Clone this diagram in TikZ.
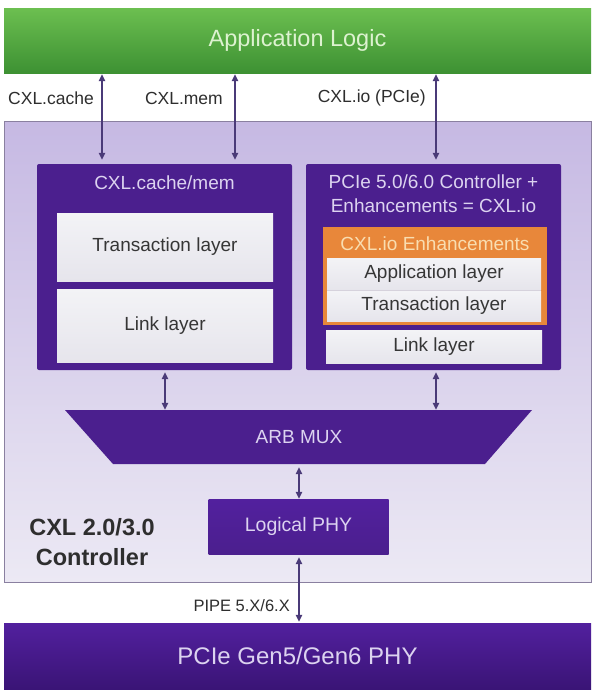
\documentclass[tikz,border=0pt]{standalone}
\usepackage{fontspec}
\setmainfont{Liberation Sans}
\usetikzlibrary{arrows.meta,calc}
\definecolor{dpurple}{HTML}{4B1F8E}
\definecolor{dpurpleB}{HTML}{3A1476}
\definecolor{dpurpleT}{HTML}{52209E}
\definecolor{greenT}{HTML}{6CBF50}
\definecolor{greenB}{HTML}{3D9133}
\definecolor{greentext}{HTML}{DDF2D0}
\definecolor{ctrtop}{HTML}{C6B9E3}
\definecolor{ctrbot}{HTML}{ECE9F4}
\definecolor{ctrborder}{HTML}{8A80A0}
\definecolor{lboxtop}{HTML}{F3F3F6}
\definecolor{lboxbot}{HTML}{E6E5EC}
\definecolor{ltext}{HTML}{363636}
\definecolor{ptext}{HTML}{DCD3F0}
\definecolor{orangec}{HTML}{E8873A}
\definecolor{otext}{HTML}{F9DDB0}
\definecolor{arrowc}{HTML}{4A3A78}
\definecolor{labelc}{HTML}{2E2E2E}
\definecolor{sepc}{HTML}{D6D2DC}
\newcommand\myfs[2]{\fontsize{#1}{#2}\selectfont}
\begin{document}
\begin{tikzpicture}[x=1pt,y=-1pt,
  darkbox/.style={fill=dpurple, rounded corners=2pt, draw=none, inner sep=0pt},
  lightbox/.style={top color=lboxtop, bottom color=lboxbot, draw=none, text=ltext, inner sep=0pt, font=\myfs{19}{23}},
  conn/.style={draw=arrowc, line width=1.3pt, {Triangle[width=6.5pt,length=7pt]}-{Triangle[width=6.5pt,length=7pt]}},
  lbl/.style={text=labelc, font=\myfs{17.5}{20}, inner sep=0pt},
  ptitle/.style={text=ptext, inner sep=0pt, font=\myfs{19}{24}, align=center},
]
\useasboundingbox (0,0) rectangle (592,696);
\fill[white] (0,0) rectangle (592,696);

% Application logic bar
\node[minimum width=587, minimum height=65, top color=greenT, bottom color=greenB, inner sep=0pt,
      text=greentext, font=\myfs{23.5}{26}] (app) at (297.5,40.5) {Application Logic};

% Controller background
\node[minimum width=587, minimum height=461, top color=ctrtop, bottom color=ctrbot,
      draw=ctrborder, line width=0.8pt, inner sep=0pt] (ctrl) at (297.5,351.5) {};

% Left block
\node[darkbox, minimum width=255, minimum height=206] (lbox) at (164.5,267) {};
\node[ptitle] (ltitle) at (164.5,183) {CXL.cache/mem};
\node[lightbox, minimum width=216, minimum height=68] (ltrans) at (165,247) {Transaction layer};
\node[lightbox, minimum width=216, minimum height=73] (llink) at (165,325.5) {Link layer};

% Right block
\node[darkbox, minimum width=255, minimum height=206] (rbox) at (433.5,267) {};
\node[ptitle] (rtitle) at (433.5,194) {PCIe 5.0/6.0 Controller +\\Enhancements = CXL.io};
\node[fill=orangec, minimum width=224, minimum height=98, inner sep=0pt] (orng) at (435,276) {};
\node[text=otext, inner sep=0pt, font=\myfs{19}{23}] (otitle) at (435,244) {CXL.io Enhancements};
\node[fill=sepc, minimum width=214, minimum height=63, inner sep=0pt] (rsep) at (434,289.5) {};
\node[lightbox, minimum width=214, minimum height=31.5] (rapp) at (434,273.75) {Application layer};
\node[lightbox, minimum width=214, minimum height=30] (rtrans) at (434,306) {Transaction layer};
\node[lightbox, minimum width=216, minimum height=33] (rlink) at (434,346.5) {Link layer};

% ARB MUX trapezoid
\fill[dpurple] (65,410) -- (532,410) -- (485,464) -- (113,464) -- cycle;
\node[minimum width=372, minimum height=54, inner sep=0pt, text=ptext, font=\myfs{19}{23}] (arb) at (299,437) {ARB MUX};

% Logical PHY
\node[minimum width=180, minimum height=55, inner sep=0pt, top color=dpurpleT, bottom color=dpurple,
      text=ptext, font=\myfs{19.5}{23}] (lphy) at (298.5,526.5) {Logical PHY};

% Bottom PHY bar
\node[minimum width=587, minimum height=66, inner sep=0pt, top color=dpurpleT, bottom color=dpurpleB,
      text=ptext, font=\myfs{24}{28}] (phy) at (297.5,656) {PCIe Gen5/Gen6 PHY};

% Controller label
\node[text=labelc, inner sep=0pt, align=center, font=\bfseries\myfs{23.5}{30}] (ctrlabel) at (92,542) {CXL 2.0/3.0\\Controller};

% Top connectors
\coordinate (c1) at (102,0);
\coordinate (c2) at (235,0);
\coordinate (c3) at (436,0);
\draw[conn] ([yshift=-1pt]app.south -| c1) -- ([yshift=4pt]lbox.north -| c1);
\draw[conn] ([yshift=-1pt]app.south -| c2) -- ([yshift=4pt]lbox.north -| c2);
\draw[conn] ([yshift=-1pt]app.south -| c3) -- ([yshift=4pt]rbox.north -| c3);

% Labels
\node[lbl, anchor=east] (lcache) at (94,98) {CXL.cache};
\node[lbl, anchor=east] (lmem) at (223,98) {CXL.mem};
\node[lbl, anchor=east] (lio) at (426,98) {CXL.io (PCIe)};

% Middle connectors
\coordinate (m1) at (165,0);
\coordinate (m2) at (436,0);
\draw[conn] ([yshift=-2pt]lbox.south -| m1) -- (arb.north -| m1);
\draw[conn] ([yshift=-2pt]rbox.south -| m2) -- (arb.north -| m2);
\coordinate (m3) at (299,0);
\draw[conn] ([yshift=-3pt]arb.south -| m3) -- (lphy.north -| m3);
\draw[conn] ([yshift=-3pt]lphy.south -| m3) -- ([yshift=1pt]phy.north -| m3);
\node[lbl, anchor=east, font=\myfs{16.5}{19}] (lpipe) at (290,606) {PIPE 5.X/6.X};
\end{tikzpicture}
\end{document}
